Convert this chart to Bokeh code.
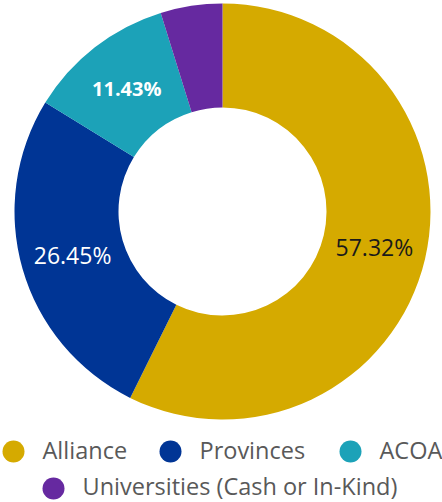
import numpy as np
from bokeh.plotting import figure
from bokeh.models import Range1d, ColumnDataSource
from bokeh.core.properties import value
from bokeh.embed import file_html
from bokeh.resources import INLINE

# ---- data ----
categories = ["Alliance", "Provinces", "ACOA", "Universities (Cash or In-Kind)"]
shares = [57.32, 26.45, 11.43, 4.80]
labels = ["57.32%", "26.45%", "11.43%", ""]
colors = ["#D5AA00", "#003595", "#1CA2B8", "#6629A0"]
label_colors = ["#1a1a1a", "#ffffff", "#ffffff", "#ffffff"]
label_styles = ["normal", "normal", "bold", "normal"]

# ---- geometry (page pixel coordinates: data x = page x, data y = 502 - page y) ----
W, H = 442, 502
cx, cy = 222, 502 - 211
r_out, r_in = 208, 104

p = figure(width=W, height=H, x_range=Range1d(0, W), y_range=Range1d(0, H),
           output_backend="svg", toolbar_location=None, min_border=0)
p.axis.visible = False
p.grid.visible = False
p.outline_line_color = None
p.background_fill_color = "white"
p.border_fill_color = "white"

fr = np.array(shares) / np.sum(shares)
ends_cum = np.cumsum(fr)
starts_cum = ends_cum - fr
start_ang = np.pi / 2 - 2 * np.pi * starts_cum
end_ang = np.pi / 2 - 2 * np.pi * ends_cum
mid_ang = (start_ang + end_ang) / 2
r_mid = (r_in + r_out) / 2

src = ColumnDataSource(dict(
    cat=categories, start=start_ang, end=end_ang, color=colors,
    lx=cx + r_mid * np.cos(mid_ang), ly=cy + r_mid * np.sin(mid_ang),
    label=labels, lcolor=label_colors, lstyle=label_styles,
))

p.annular_wedge(x=cx, y=cy, inner_radius=r_in, outer_radius=r_out,
                start_angle="start", end_angle="end", direction="clock",
                fill_color="color", line_color=None, source=src)

d = src.data
for i in range(len(categories)):
    if not labels[i]:
        continue
    p.text(x=[d["lx"][i]], y=[d["ly"][i]], text=[labels[i]],
           text_font=value("Open Sans"),
           text_font_size="20px" if label_styles[i] == "bold" else "23px",
           text_font_style=label_styles[i], text_color=label_colors[i],
           text_align="center", text_baseline="middle")

# ---- legend (manual, two rows, centered) ----
leg_rows = [[0, 1, 2], [3]]
row_marker_y = [502 - 451, 502 - 488]
row_text_y = [502 - 449, 502 - 485]
row_marker_x = [[13, 170, 350], [53]]
for row, my, ty, mxs in zip(leg_rows, row_marker_y, row_text_y, row_marker_x):
    for idx, mx in zip(row, mxs):
        p.scatter(x=[mx], y=[my], size=22, marker="circle",
                  fill_color=colors[idx], line_color=None)
        p.text(x=[mx + 29], y=[ty], text=[categories[idx]],
               text_font=value("Open Sans"), text_font_size="23.5px",
               text_color="#595959", text_align="left", text_baseline="middle")

open("out.html", "w").write(file_html(p, INLINE))
